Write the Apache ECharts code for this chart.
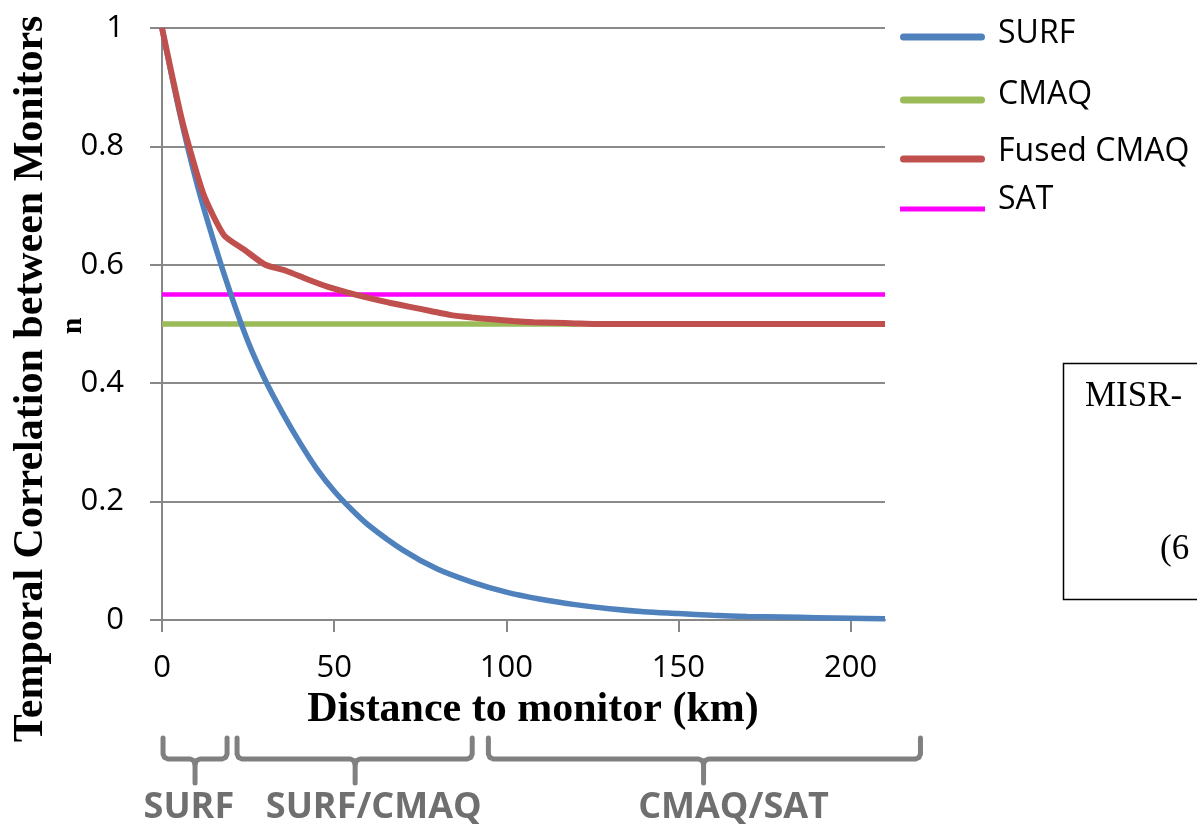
<!DOCTYPE html>
<html>
<head>
<meta charset="utf-8">
<script src="https://cdn.jsdelivr.net/npm/echarts@6/dist/echarts.min.js"></script>
<style>
  html, body { margin: 0; padding: 0; background: #fff; }
  #main { width: 1197px; height: 827px; }
</style>
</head>
<body>
<div id="main"></div>
<script>
// series names as in the legend
var seriesNames = ['SURF', 'CMAQ', 'Fused CMAQ', 'SAT'];

// SURF: correlation vs distance (km)
var surfDist = [0, 5, 10, 15, 20, 25, 30, 35, 40, 45, 50, 55, 60, 70, 80, 90, 100, 110, 120, 130, 140, 150, 160, 170, 180, 190, 200, 210];
var surfCorr = [1.0, 0.86, 0.74, 0.64, 0.55, 0.47, 0.405, 0.35, 0.30, 0.255, 0.218, 0.187, 0.16, 0.118, 0.086, 0.064, 0.047, 0.035, 0.026, 0.019, 0.014, 0.011, 0.008, 0.006, 0.005, 0.004, 0.003, 0.002];

// Fused CMAQ
var fusedDist = [0, 6, 12, 18, 24, 30, 36, 42, 48, 54, 60, 66, 72, 78, 84, 90, 96, 102, 108, 114, 120, 126, 210];
var fusedCorr = [1.0, 0.84, 0.72, 0.65, 0.625, 0.60, 0.59, 0.576, 0.563, 0.553, 0.544, 0.536, 0.529, 0.522, 0.515, 0.511, 0.508, 0.505, 0.503, 0.502, 0.501, 0.5, 0.5];

// flat lines
var cmaqDist = [0, 210];
var cmaqCorr = [0.5, 0.5];
var satDist = [0, 210];
var satCorr = [0.55, 0.55];

var xTicks = [0, 50, 100, 150, 200];

// distance ranges marked under the axis
var rangeNames = ['SURF', 'SURF/CMAQ', 'CMAQ/SAT'];
var rangeStart = [0.3, 21.8, 94.8];
var rangeEnd = [18.9, 90.1, 220.3];
var rangeStem = [9.6, 56.1, 157.3];
var rangeLabelAt = [7.8, 61.5, 166];

function zip(xs, ys) {
  var out = [];
  for (var i = 0; i < xs.length; i++) out.push([xs[i], ys[i]]);
  return out;
}

var colors = {
  'SURF': '#4f81bd',
  'CMAQ': '#9bbb59',
  'Fused CMAQ': '#c0504d',
  'SAT': '#ff00ff'
};

// legend icon: the stroke sits at the bottom of its box, so the label
// (centred on the box) ends up a bit above the stroke like in the source
function lineIcon(th, off, rounded) {
  var h = th + 2 * off, t = 2 * off, r = th / 2;
  if (!rounded) {
    return 'path://M0,0 M0,' + t + ' L85,' + t + ' L85,' + h + ' L0,' + h + ' Z';
  }
  return 'path://M0,0 M' + r + ',' + t + ' L' + (85 - r) + ',' + t +
    ' Q85,' + t + ' 85,' + (t + r) + ' Q85,' + h + ' ' + (85 - r) + ',' + h +
    ' L' + r + ',' + h + ' Q0,' + h + ' 0,' + (t + r) + ' Q0,' + t + ' ' + r + ',' + t + ' Z';
}

function legendFor(name, lineY, off, th, rounded) {
  return {
    data: [name],
    left: 900,
    top: lineY - off - 18,
    padding: 0,
    itemWidth: 85,
    itemHeight: th + 2 * off,
    icon: lineIcon(th, off, rounded),
    selectedMode: false,
    textStyle: {
      fontFamily: 'Open Sans',
      fontSize: 32,
      color: '#000',
      lineHeight: 36,
      padding: [0, 0, 0, 8]
    }
  };
}

var myChart = echarts.init(document.getElementById('main'), null, { renderer: 'canvas' });

var option = {
  animation: false,
  backgroundColor: '#fff',
  grid: { left: 162, right: 312, top: 28, bottom: 207, containLabel: false },
  legend: [
    legendFor('SURF', 37, 3.5, 7, true),
    legendFor('CMAQ', 100, 5.5, 7, true),
    legendFor('Fused CMAQ', 159, 7, 7, true),
    legendFor('SAT', 209, 9.5, 5, false)
  ],
  xAxis: {
    type: 'value',
    min: 0,
    max: 210,
    interval: 50,
    axisLine: { show: true, lineStyle: { color: '#878787', width: 2 } },
    axisTick: { show: true, length: 12, inside: false, customValues: xTicks, lineStyle: { color: '#878787', width: 2 } },
    axisLabel: {
      customValues: xTicks,
      margin: 33,
      fontFamily: 'Open Sans',
      fontSize: 31,
      color: '#000'
    },
    splitLine: { show: false }
  },
  yAxis: {
    type: 'value',
    min: 0,
    max: 1,
    interval: 0.2,
    axisLine: { show: true, lineStyle: { color: '#878787', width: 2 } },
    axisTick: { show: true, length: 12, lineStyle: { color: '#878787', width: 2 } },
    axisLabel: {
      margin: 38,
      fontFamily: 'Open Sans',
      fontSize: 31,
      color: '#000'
    },
    splitLine: { show: true, lineStyle: { color: '#8a8a8a', width: 2 } }
  },
  series: [
    {
      name: 'CMAQ', type: 'line', symbol: 'none', z: 2,
      data: zip(cmaqDist, cmaqCorr),
      itemStyle: { color: colors['CMAQ'] },
      lineStyle: { color: colors['CMAQ'], width: 5.5 }
    },
    {
      name: 'SAT', type: 'line', symbol: 'none', z: 3,
      data: zip(satDist, satCorr),
      itemStyle: { color: colors['SAT'] },
      lineStyle: { color: colors['SAT'], width: 4.5 }
    },
    {
      name: 'SURF', type: 'line', symbol: 'none', smooth: 0.3, z: 4,
      data: zip(surfDist, surfCorr),
      itemStyle: { color: colors['SURF'] },
      lineStyle: { color: colors['SURF'], width: 5.5 }
    },
    {
      name: 'Fused CMAQ', type: 'line', symbol: 'none', smooth: 0.2, z: 5,
      data: zip(fusedDist, fusedCorr),
      itemStyle: { color: colors['Fused CMAQ'] },
      lineStyle: { color: colors['Fused CMAQ'], width: 6 }
    }
  ]
};

myChart.setOption(option);

// braces + labels under the x axis, titles and the cut-off text box
function xPix(d) {
  return myChart.convertToPixel({ xAxisIndex: 0 }, d);
}

var braceStyle = { fill: null, stroke: '#808080', lineWidth: 5, lineCap: 'round', lineJoin: 'round' };

// one brace = two polylines meeting at the stem, corners cut a little
function bracePieces(x1, x2, xm) {
  var yTop = 738, yH = 759, yBot = 783, r = 5;
  return [
    { type: 'polyline', shape: { points: [[x1, yTop], [x1, yH - r], [x1 + 1.5, yH - 1.5], [x1 + r, yH], [xm - r, yH], [xm - 1.5, yH + 1.5], [xm, yH + r], [xm, yBot]] }, style: braceStyle },
    { type: 'polyline', shape: { points: [[xm, yH + r], [xm + 1.5, yH + 1.5], [xm + r, yH], [x2 - r, yH], [x2 - 1.5, yH - 1.5], [x2, yH - r], [x2, yTop]] }, style: braceStyle }
  ];
}

var graphics = [];
for (var i = 0; i < rangeNames.length; i++) {
  graphics = graphics.concat(bracePieces(xPix(rangeStart[i]), xPix(rangeEnd[i]), xPix(rangeStem[i])));
  graphics.push({
    type: 'text',
    x: xPix(rangeLabelAt[i]),
    y: 808,
    style: {
      text: rangeNames[i],
      fill: '#6f6f6f',
      font: 'bold 36px "Open Sans"',
      textAlign: 'center',
      textVerticalAlign: 'middle'
    }
  });
}

graphics.push({
  type: 'text',
  x: 533,
  y: 710,
  style: {
    text: 'Distance to monitor (km)',
    fill: '#000',
    font: 'bold 42px "Liberation Serif"',
    textAlign: 'center',
    textVerticalAlign: 'middle'
  }
});

graphics.push({
  type: 'text',
  x: 31,
  y: 379,
  rotation: Math.PI / 2,
  style: {
    text: 'Temporal Correlation between Monitors',
    fill: '#000',
    font: 'bold 42px "Liberation Serif"',
    textAlign: 'center',
    textVerticalAlign: 'middle'
  }
});

graphics.push({
  type: 'text',
  x: 73,
  y: 326,
  rotation: Math.PI / 2,
  style: {
    text: 'n',
    fill: '#000',
    font: 'bold 30px "Liberation Serif"',
    textAlign: 'center',
    textVerticalAlign: 'middle'
  }
});

// text box at the right edge (cut off in the source)
graphics.push({
  type: 'rect',
  shape: { x: 1063.5, y: 363.5, width: 200, height: 236 },
  style: { fill: null, stroke: '#000', lineWidth: 1.5 }
});
graphics.push({
  type: 'text',
  x: 1085,
  y: 397,
  style: { text: 'MISR-', fill: '#000', font: '35px "Liberation Serif"', textVerticalAlign: 'middle' }
});
graphics.push({
  type: 'text',
  x: 1160,
  y: 550,
  style: { text: '(6', fill: '#000', font: '35px "Liberation Serif"', textVerticalAlign: 'middle' }
});

myChart.setOption({ graphic: graphics });
</script>
</body>
</html>
